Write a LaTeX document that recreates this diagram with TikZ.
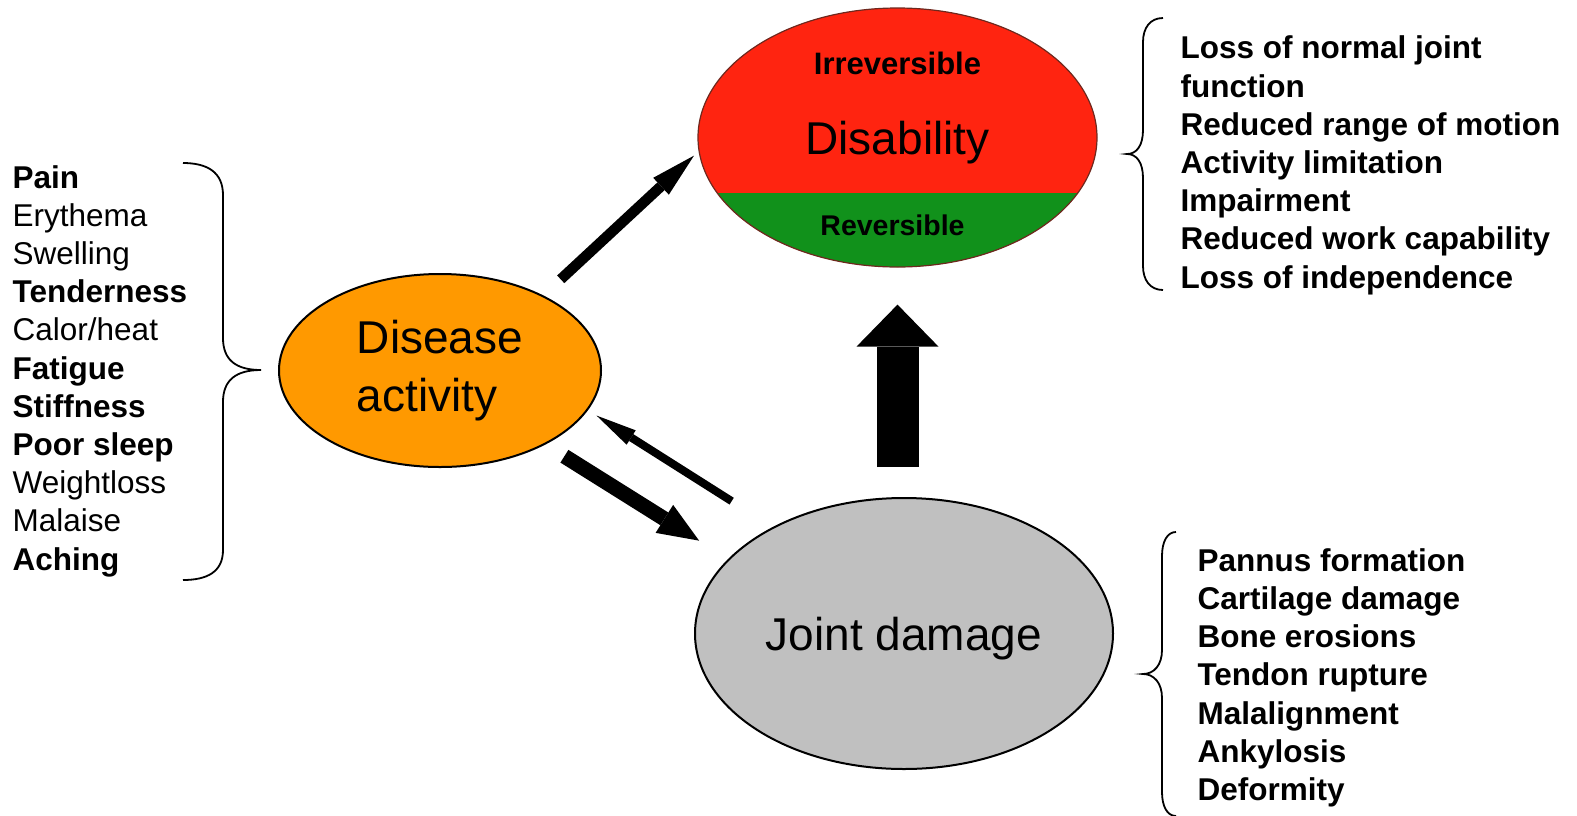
\documentclass[tikz,border=0pt]{standalone}
\usepackage{fontspec}
\setmainfont{Liberation Sans}
\usepackage{tikz}
\usetikzlibrary{positioning, arrows.meta, shapes.geometric, calc}

\definecolor{disred}{RGB}{255,36,16}
\definecolor{disedge}{RGB}{110,40,30}
\definecolor{revgreen}{RGB}{17,145,27}
\definecolor{actorange}{RGB}{255,153,0}
\definecolor{dmggray}{RGB}{192,192,192}

\begin{document}
\begin{tikzpicture}[x=1pt, y=-1pt,
    blob/.style={ellipse, inner sep=0pt, line width=2pt, draw=black},
    biglbl/.style={font=\fontsize{46}{58}\selectfont},
    lst/.style={anchor=base west, align=left, inner sep=0pt, font=\fontsize{31.5}{38.2}\selectfont},
    lstb/.style={lst, font=\bfseries\fontsize{31.5}{38.2}\selectfont},
    brc/.style={line width=1.8pt},
    blk/.style={draw=black, line width=#1}
    ]
\useasboundingbox (0,0) rectangle (1577,815);

    \node[blob, fill=actorange, minimum width=322pt, minimum height=193pt, biglbl, align=left] (d_act) at (440,370.5) {Disease\\activity};
    \node[blob, draw=disedge, line width=1.2pt, fill=disred, minimum width=399pt, minimum height=259pt, biglbl, text depth=0pt,
          path picture={\fill[revgreen] (path picture bounding box.south west) rectangle ([yshift=74.5pt]path picture bounding box.south east);}] (dis) at (897.5,137.5) {Disability};
    \node[blob, fill=dmggray, minimum width=418pt, minimum height=271pt, biglbl, text depth=0pt] (j_dmg) at (904,633.5) {Joint damage};

    \node[anchor=base, font=\bfseries\fontsize{31}{36}\selectfont] (irr) at ([yshift=63pt]dis.center) {Irreversible};
    \node[anchor=base, font=\bfseries\fontsize{28.5}{34}\selectfont] (rev) at ([xshift=-5pt,yshift=-97.5pt]dis.center) {Reversible};

    \node[lst] (l_sym) at (12.5,570) {\textbf{Pain}\\Erythema\\Swelling\\\textbf{Tenderness}\\Calor/heat\\\textbf{Fatigue}\\\textbf{Stiffness}\\\textbf{Poor sleep}\\Weightloss\\Malaise\\\textbf{Aching}};
    \node[lstb] (l_dis) at (1180.5,288) {Loss of normal joint\\function\\Reduced range of motion\\Activity limitation\\Impairment\\Reduced work capability\\Loss of independence};
    \node[lstb] (l_dmg) at (1197.3,800.5) {Pannus formation\\Cartilage damage\\Bone erosions\\Tendon rupture\\Malalignment\\Ankylosis\\Deformity};

    \draw[brc] (183,163) .. controls (207,163) and (223,172) .. (223,195) -- (223,338)
        .. controls (223,360) and (236,370) .. (261,370) .. controls (236,370) and (223,380) .. (223,402)
        -- (223,550) .. controls (223,572) and (207,580) .. (183,580);
    \draw[brc] (1163,18) .. controls (1150,18) and (1143,28) .. (1143,42) -- (1143,130)
        .. controls (1143,145) and (1137,154) .. (1127,154) .. controls (1137,154) and (1143,163) .. (1143,178)
        -- (1143,266) .. controls (1143,280) and (1150,290) .. (1163,290);
    \draw[brc] (1176,532) .. controls (1167,532) and (1162,542) .. (1162,556) -- (1162,650)
        .. controls (1162,665) and (1154,674) .. (1143,674) .. controls (1154,674) and (1162,683) .. (1162,698)
        -- (1162,792) .. controls (1162,806) and (1167,816) .. (1176,816);

    \path
    (d_act.36.2) edge [blk=10.5pt, -{Triangle[length=45pt,width=23pt,line width=0pt]}, shorten <=23.7pt, shorten >=6.2pt] (dis.184.9)
    (d_act.325.3) edge [blk=15pt, -{Triangle[length=41pt,width=33pt,line width=0pt]}, shorten <=22.2pt, shorten >=34.3pt] (j_dmg.157.5)
    (j_dmg.141.8) edge [blk=8pt, -{Triangle[length=41pt,width=17pt,line width=0pt]}, shorten <=48.4pt, shorten >=10.1pt] (d_act.345.2)
    (dis.south |- j_dmg.north) edge [blk=42pt, -{Triangle[length=42pt,width=82pt,line width=0pt]}, shorten <=30pt, shorten >=37pt] (dis.south)
    ;
\end{tikzpicture}
\end{document}
